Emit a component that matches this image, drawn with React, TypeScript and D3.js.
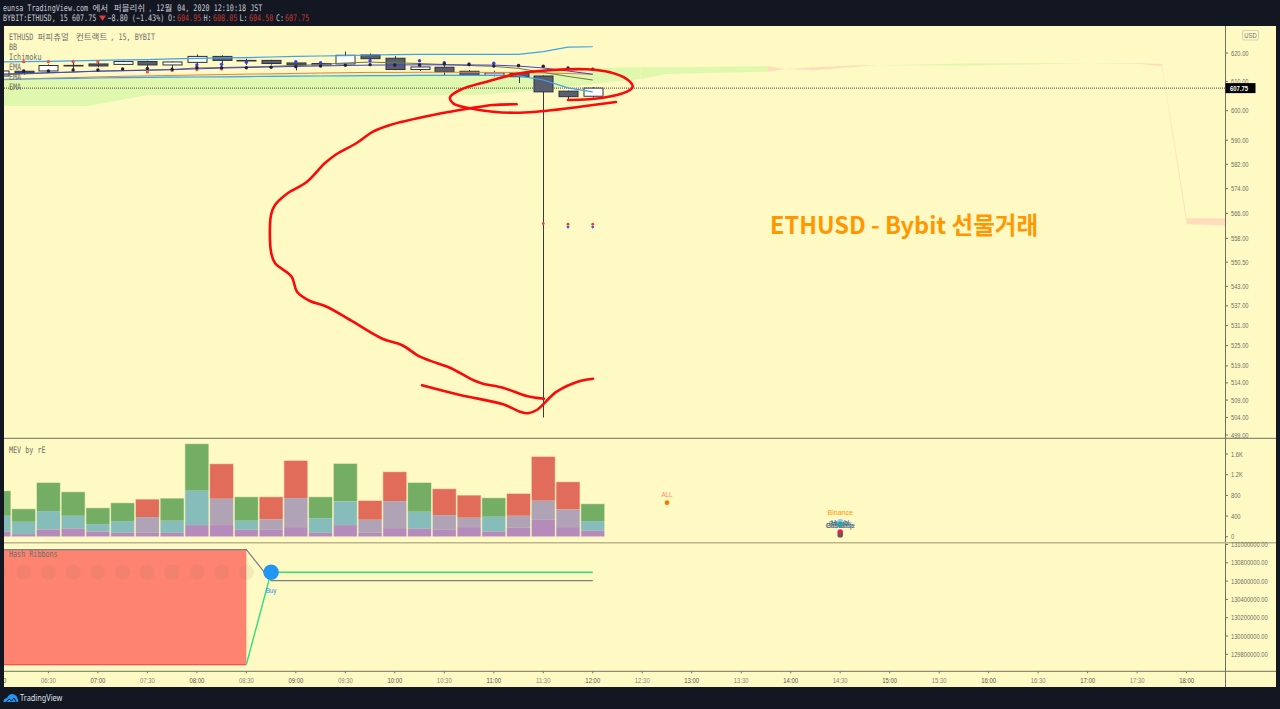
import React from "react";
import * as d3 from "d3";

const headerTitle = "eunsa TradingView.com 에서 퍼블리쉬, 12월 04, 2020 12:10:18 JST";
const legendLabels = ["ETHUSD 퍼피츄얼 컨트랙트, 15, BYBIT", "BB", "Ichimoku", "EMA", "EMA", "EMA"];
const bigTitle = "ETHUSD - Bybit 선물거래";

const priceTicks = [620, 610, 600, 590, 582, 574, 566, 558, 550.5, 543, 537, 531, 525, 519, 514, 509, 504, 499];
const volTicks = [0, 400, 800, 1200, 1600];
const volTickLabels = ["0", "400", "800", "1.2K", "1.6K"];
const hashTicks = [131000000, 130800000, 130600000, 130400000, 130200000, 130000000, 129800000];
const timeTicks = ["06:00","06:30","07:00","07:30","08:00","08:30","09:00","09:30","10:00","10:30","11:00","11:30","12:00","12:30","13:00","13:30","14:00","14:30","15:00","15:30","16:00","16:30","17:00","17:30","18:00"];

const barMinutes = d3.range(25).map((i) => 360 + i * 15);
const opens = [611.95,613.6,613.7,615.65,616.15,616,617,615.8,616.7,618.8,617.4,617.4,616.5,615.8,616.15,619.3,618.15,614.2,615,613.6,612.2,612.9,611.95,606.7,604.95];
const closes = [613.7,613.1,615.6,615.45,615.45,617,615.8,616.85,618.8,617.4,617.2,616.3,615.8,616.3,619.2,618,614.2,615.1,613.45,612.2,613,611.7,606.45,604.8,607.75];
const highs = [614,614.1,616,616.5,616.6,617.3,617.3,617,619.5,619.2,618,617.6,616.7,616.6,620.5,619.8,618.9,615.6,615.4,614,613.8,613.3,612.2,606.9,608.05];
const lows = [611.5,612.4,613.3,614.2,615,615.8,614.2,614.5,616.2,616.3,615.8,615.9,613.9,615.3,615.6,617.2,614,613.7,612.3,612,611.8,609.5,504,604,604.5];

const bbUpper = [616.85,616.95,617.05,617.2,617.4,617.55,617.7,617.9,618.1,618.25,618.4,618.6,618.8,618.95,619.1,619.3,619.4,619.5,619.5,619.5,619.5,619.55,620.5,622.1,622.2];
const bbLower = [610.8,610.9,611,611.1,611.25,611.35,611.45,611.55,611.6,611.65,611.75,611.8,611.9,611.95,612,612.1,612.1,612.15,612.15,612.15,612.15,612,610.55,607.85,606.45];
const basis = [612.6,612.85,613.1,613.35,613.6,613.75,613.95,614.15,614.45,614.7,614.9,615.1,615.3,615.45,615.6,615.75,615.8,615.85,615.85,615.8,615.75,615.4,614.75,613.7,612.55];
const oliveLine = [612.3,612.65,613,613.3,613.7,613.85,614.05,614.2,614.75,614.9,615.1,615.3,615.6,615.95,616.5,616.8,616.55,616.3,615.95,615.6,615.3,614.6,613.2,611.8,610.55];
const orangeLine = [610.55,610.9,611.2,611.4,611.65,611.85,612,612.15,612.3,612.45,612.6,612.7,612.85,613,613.1,613.2,613.2,613.25,613.25,613.25,613.2,613.2,613,612.8,612.55];

const darkMarks = [613.7,613.7,613.7,614.05,614.05,614.4,614.6,614.3,614.85,614.85,614.85,615,615.2,615.45,615.7,615.9,615.8,615.8,616.15,615.9,615.45,615.6,615.35,614.75,614.3];
const blueMarks = [null,null,null,null,null,null,null,null,615.8,616.05,616.75,null,616.95,616.6,null,617.3,null,617.3,616.6,616.15,616.4,null,null,null,null];
const redMarks = [null,616.95,616.95,616.95,616.95,null,613.35,613.9,614.2,614.4,null,null,null,null,null,null,null,null,null,null,null,615.45,null,null,null];
const lowRedMarks = [{ m: 690, p: 562.7 }, { m: 705, p: 562.5 }, { m: 720, p: 562.5 }];
const lowBlueMarks = [{ m: 705, p: 561.6 }, { m: 720, p: 561.6 }];

const cloudMinutes = [360,414,450,555,650,682,720,749,765,826,836,855,880,893,946,996,1021,1052,1065,1080,1107];
const spanA = [610.55,611.6,612,613,613.25,613.5,614.75,615,615,615.35,614.28,614.05,615.2,615.7,616.3,616.5,616.4,616.15,615.35,562.6,562];
const spanB = [601.6,601.6,605.4,605.4,605.4,606.75,609.2,610.9,612.65,613.45,614.32,615,615.7,615.7,615.55,616.15,616.4,616.4,616.15,564.4,564.4];

const volTop = [890,542,1051,871,561,658,729,748,1800,1413,774,774,1477,774,1419,703,1258,1051,929,806,755,839,1554,1064,639];
const volMid = [406,290,497,406,245,303,381,310,890,735,310,335,748,361,684,329,690,484,419,368,387,406,697,529,303];
const volLow = [97,52,142,155,103,77,77,77,226,226,135,135,187,77,226,77,168,155,135,187,97,174,329,187,116];
const volUp = [true,true,true,true,true,true,false,true,true,false,true,false,false,true,true,false,false,true,false,false,true,false,false,false,true];

const exchangeLabels = [
  { name: "Bitfinex", color: "#26a69a", v: 238 },
  { name: "Huobi", color: "#283593", v: 270 },
  { name: "Coinbase", color: "#1e88e5", v: 215 },
  { name: "Bitstamp", color: "#795548", v: 205 },
  { name: "Binance", color: "#ff9800", v: 455 },
];
const exchangeDots = [
  { color: "#90caf9", v: 295 },
  { color: "#26a69a", v: 240 },
  { color: "#e91e63", v: 90 },
  { color: "#795548", v: 35 },
];
const allMark = { name: "ALL", v: 660, minute: 765 };
const exchangeMinute = 870;

const hashFast = [129688000,129688000,129688000,129688000,129688000,129688000,129688000,129688000,129688000,129688000,129688000,130697000,130697000,130697000,130697000,130697000,130697000,130697000,130697000,130697000,130697000,130697000,130697000,130697000,130697000];
const hashSlow = [130943000,130943000,130943000,130943000,130943000,130943000,130943000,130943000,130943000,130943000,130943000,130605000,130605000,130605000,130605000,130605000,130605000,130605000,130605000,130605000,130605000,130605000,130605000,130605000,130605000];
const hashDotLevel = 130697000;

// Hand-drawn brush strokes: screen-space overlay, not chart data.
const brushStrokes: [number, number][][] = [
  [[516.7,104.3],[493,105],[470,108.3],[433,115],[390,125],[373,131.7],[356.7,143],[336.7,154],[325,163],[306.7,182],[288,193],[275,205],[271,215],[271,251.7],[275,263],[291.7,276.7],[297,291.7],[310,301],[326.7,306.7],[353,321.7],[383,339],[401.7,345],[420,356.7],[436.7,363],[450,367.7],[473,380],[483,383.7],[503,387.7],[526.7,396],[544,398.7]],
  [[422,385.3],[460,395],[503,404.3],[520,411.7],[528,413.3],[536.7,410],[556.7,391.7],[580,381],[593,378.7]],
  [[568,100],[603,97.7],[627,91.7],[632.7,86.7],[627,79.3],[610,72.3],[586.7,69.3],[553,70],[520,73.3],[486.7,81.7],[460,90],[450,97.3],[453,103.3],[470,108.3],[493,111.7],[520,112.7],[546.7,110.7],[580,106.7],[616,102]],
];

const W = 1280, H = 709;
const left = 4, axisX = 1225, right = 1276, top = 26, paneA = 438.3, paneB = 542.7, timeY = 671.3, bottom = 687;
const CHROME = "#131722", BG = "#fff9c4", LINE = "#6f7162", LABEL = "#6e7068";
const MONO = '"DejaVu Sans Mono",monospace';
const SANS = '"Liberation Sans","Noto Sans CJK KR",sans-serif';
const CJK = '"Noto Sans CJK KR",sans-serif';
const LATIN_ADV = 4.07, CJK_ADV = 8.6;

const x = d3.scaleLinear().domain([390, 1080]).range([48.4, 1186.6]);
const yP = d3.scaleLog().domain([620, 499]).range([53, 435]);
const yV = d3.scaleLinear().domain([0, 1600]).range([536.8, 454]);
const yH = d3.scaleLinear().domain([131000000, 129800000]).range([544.5, 654.3]);

const lineOf = (vals: number[]) =>
  d3.line<number>().x((_, i) => x(barMinutes[i])).y((v) => yP(v))(vals) as string;

function T({ x: tx, y, s, size = 9, sx = 0.75, fill = LABEL, anchor = "start", weight = 400, family = MONO }: any) {
  return (
    <text transform={`translate(${tx},${y}) scale(${sx},1)`} fontSize={size} fill={fill} textAnchor={anchor} fontWeight={weight} fontFamily={family}>
      {s}
    </text>
  );
}

// Mono label that mixes narrow latin runs with full-width Korean runs.
function Mixed({ x: tx, y, s, fill = LABEL }: any) {
  const runs: string[] = s.match(/[\uAC00-\uD7A3]+|[^\uAC00-\uD7A3]+/g) || [];
  let cur = tx;
  return (
    <g>
      {runs.map((r, i) => {
        const isCjk = /[\uAC00-\uD7A3]/.test(r);
        const at = cur;
        cur += r.length * (isCjk ? CJK_ADV : LATIN_ADV);
        return isCjk ? (
          <T key={i} x={at} y={y} s={r} fill={fill} size={8.5} sx={1} family={CJK} />
        ) : (
          <text key={i} transform={`translate(${at},${y}) scale(0.75,1)`} fontSize={9} fill={fill} fontFamily={MONO} xmlSpace="preserve" style={{ whiteSpace: "pre" }}>
            {r}
          </text>
        );
      })}
    </g>
  );
}

export default function App() {
  const candleW = 19;
  const brushLine = d3.line<[number, number]>().curve(d3.curveCatmullRom.alpha(0.5));
  const hashArea = d3
    .area<number>()
    .x((m) => x(m))
    .y0((_, i) => yH(hashFast[i]))
    .y1((_, i) => yH(hashSlow[i]));
  const ribbonMins = barMinutes.slice(0, hashFast.findIndex((v) => v === hashDotLevel));
  const buyIndex = ribbonMins.length;
  const fastPts = barMinutes.map((m, i) => [x(m), yH(hashFast[i])] as [number, number]);
  const slowPts = barMinutes.map((m, i) => [x(m), yH(hashSlow[i])] as [number, number]);
  const pl = d3.line<[number, number]>();
  return (
    <svg width={W} height={H} viewBox={`0 0 ${W} ${H}`} style={{ position: "fixed", left: 0, top: 0, display: "block" }}>
      <defs>
        <clipPath id="main"><rect x={left} y={top} width={axisX - left} height={paneA - top} /></clipPath>
        <clipPath id="vol"><rect x={left} y={paneA} width={axisX - left} height={paneB - paneA} /></clipPath>
        <clipPath id="hash"><rect x={left} y={paneB} width={axisX - left} height={timeY - paneB} /></clipPath>
        <clipPath id="time"><rect x={left} y={timeY} width={axisX - left} height={bottom - timeY} /></clipPath>
      </defs>
      <rect width={W} height={H} fill={CHROME} />
      <rect x={left} y={top} width={right - left} height={bottom - top} fill={BG} />

      <Mixed x={3} y={10.5} s={headerTitle} fill="#c8cad2" />
      <T x={3} y={20.5} s="BYBIT:ETHUSD, 15 607.75" fill="#c8cad2" />
      <path d="M99 15.5 L106 15.5 L102.5 21 Z" fill="#e53935" />
      <T x={107.5} y={20.5} s="−8.80 (−1.43%)" fill="#c8cad2" />
      {[["O:", 168, "604.95", 177], ["H:", 203.5, "608.05", 213], ["L:", 239.5, "604.50", 249], ["C:", 276, "607.75", 285]].map((r: any) => (
        <g key={r[0]}>
          <T x={r[1]} y={20.5} s={r[0]} fill="#c8cad2" />
          <T x={r[3]} y={20.5} s={r[2]} fill="#c0392f" />
        </g>
      ))}

      {/* main pane */}
      <g clipPath="url(#main)">
        {cloudMinutes.slice(0, -1).map((m, i) => {
          const d1 = spanA[i + 1] - spanB[i + 1];
          const d = d1 !== 0 ? d1 : spanA[i] - spanB[i];
          const p = [
            [x(m), yP(spanA[i])],
            [x(cloudMinutes[i + 1]), yP(spanA[i + 1])],
            [x(cloudMinutes[i + 1]), yP(spanB[i + 1])],
            [x(m), yP(spanB[i])],
          ] as [number, number][];
          return <path key={m} d={pl(p) + "Z"} fill={d > 0 ? "#e0f7ae" : "#ffdcbc"} />;
        })}
        <line x1={left} x2={axisX} y1={yP(607.75)} y2={yP(607.75)} stroke="#444" strokeWidth={1} strokeDasharray="1 1" />
        {barMinutes.map((m, i) => {
          const up = closes[i] >= opens[i];
          const t = yP(Math.max(opens[i], closes[i]));
          const b = yP(Math.min(opens[i], closes[i]));
          const cx = Math.round(x(m)) + 0.5;
          return (
            <g key={m}>
              <line x1={cx} x2={cx} y1={yP(highs[i])} y2={yP(lows[i])} stroke="#363a45" strokeWidth={1} />
              <rect x={cx - candleW / 2} y={t} width={candleW} height={Math.max(b - t, 0.5)} fill={up ? "#ffffff" : "#5a5f6f"} stroke="#2f323c" strokeWidth={1} />
            </g>
          );
        })}
        <path d={lineOf(orangeLine)} fill="none" stroke="#ea7f45" strokeWidth={1} />
        <path d={lineOf(oliveLine)} fill="none" stroke="#6f7a42" strokeWidth={1} />
        <path d={lineOf(basis)} fill="none" stroke="#4242d4" strokeWidth={1} />
        <path d={lineOf(bbUpper)} fill="none" stroke="#3fa2ec" strokeWidth={1.2} />
        <path d={lineOf(bbLower)} fill="none" stroke="#3fa2ec" strokeWidth={1.2} />
        {barMinutes.map((m, i) => (
          <g key={m}>
            {redMarks[i] != null && <circle cx={x(m)} cy={yP(redMarks[i] as number)} r={1.6} fill="#f0503c" />}
            {blueMarks[i] != null && <circle cx={x(m)} cy={yP(blueMarks[i] as number)} r={1.7} fill="#3a3ee6" />}
            <circle cx={x(m)} cy={yP(darkMarks[i])} r={1.7} fill="#1e2233" />
          </g>
        ))}
        {lowBlueMarks.map((d) => <circle key={d.m} cx={x(d.m)} cy={yP(d.p)} r={1.4} fill="#3a5ef0" />)}
        {lowRedMarks.map((d) => <circle key={d.m} cx={x(d.m)} cy={yP(d.p)} r={1.4} fill="#f0403c" />)}
      </g>

      {legendLabels.map((s, i) => (
        <Mixed key={i} x={9} y={39.5 + i * 10} s={s} />
      ))}
      <text x={770} y={234} fontSize={23.5} fontWeight={700} fill="#ff9800" fontFamily={CJK}>{bigTitle}</text>

      {/* volume pane */}
      <g clipPath="url(#vol)">
        {barMinutes.map((m, i) => {
          const bx = x(m) - 12;
          const rects: [number, number, string][] = [
            [volMid[i], volTop[i], volUp[i] ? "#74ae64" : "#e26c5a"],
            [volLow[i], volMid[i], volUp[i] ? "#86bcba" : "#b0a3b6"],
            [0, volLow[i], "#b48bbb"],
          ];
          return (
            <g key={m}>
              {rects.map(([a, b, c]) => (
                <rect key={c} x={bx} y={yV(b)} width={24} height={yV(a) - yV(b)} fill={c} />
              ))}
              <rect x={bx} y={yV(volTop[i])} width={24} height={yV(0) - yV(volTop[i])} fill="none" stroke="#fff9c4" strokeOpacity={0.6} strokeWidth={1} />
            </g>
          );
        })}
        <T x={x(allMark.minute)} y={yV(allMark.v) - 6} s={allMark.name} size={7} sx={0.9} anchor="middle" fill="#ff8a65" family={SANS} />
        <circle cx={x(allMark.minute)} cy={yV(allMark.v)} r={2.4} fill="#ef7c00" />
        {exchangeLabels.map((d) => (
          <T key={d.name} x={x(exchangeMinute)} y={yV(d.v) + 2} s={d.name} size={7} sx={1} anchor="middle" fill={d.color} family={SANS} />
        ))}
        {exchangeDots.map((d) => (
          <circle key={d.color} cx={x(exchangeMinute)} cy={yV(d.v)} r={2.8} fill={d.color} />
        ))}
      </g>
      <T x={9} y={452.5} s="MEV by rE" />

      {/* hash ribbons */}
      <g clipPath="url(#hash)">
        <path d={hashArea(barMinutes.slice(0, buyIndex))!} fill="#ff8371" />
        {ribbonMins.map((m) => (
          <circle key={m} cx={x(m)} cy={yH(hashDotLevel)} r={7.6} fill="#8d7f5c" fillOpacity={0.11} />
        ))}
        <path d={pl(slowPts)!} fill="none" stroke="#7b7f86" strokeWidth={1.2} />
        <path d={pl(fastPts.slice(0, buyIndex))!} fill="none" stroke="#ff4d4d" strokeWidth={1.2} />
        <path d={pl(fastPts.slice(buyIndex - 1))!} fill="none" stroke="#2fe07f" strokeWidth={1.4} />
        <circle cx={x(barMinutes[buyIndex])} cy={yH(hashDotLevel)} r={7.8} fill="#2196f3" />
        <T x={x(barMinutes[buyIndex])} y={593} s="Buy" size={7} sx={0.9} anchor="middle" fill="#2196f3" family={SANS} />
      </g>
      <T x={9} y={556.5} s="Hash Ribbons" />

      {/* brush */}
      {brushStrokes.map((s, i) => (
        <path key={i} d={brushLine(s)!} fill="none" stroke="#fb0a0a" strokeWidth={2.6} strokeLinecap="round" strokeLinejoin="round" />
      ))}

      {/* axes */}
      <g stroke={LINE} strokeWidth={1}>
        <line x1={axisX + 0.5} x2={axisX + 0.5} y1={top} y2={bottom} />
        <line x1={left} x2={right} y1={paneA} y2={paneA} />
        <line x1={left} x2={right} y1={paneB} y2={paneB} stroke="#b9b690" strokeWidth={1.5} />
        <line x1={left} x2={right} y1={timeY} y2={timeY} />
      </g>
      {priceTicks.map((p) => (
        <g key={p}>
          <line x1={axisX} x2={axisX + 3} y1={yP(p)} y2={yP(p)} stroke={LINE} />
          <T x={1231} y={yP(p) + 2.5} s={p.toFixed(2)} size={7} sx={0.82} family={SANS} />
        </g>
      ))}
      {volTicks.map((v, i) => (
        <g key={v}>
          <line x1={axisX} x2={axisX + 3} y1={yV(v)} y2={yV(v)} stroke={LINE} />
          <T x={1231} y={yV(v) + 2.5} s={volTickLabels[i]} size={7} sx={0.82} family={SANS} />
        </g>
      ))}
      {hashTicks.map((v) => (
        <g key={v}>
          <line x1={axisX} x2={axisX + 3} y1={yH(v)} y2={yH(v)} stroke={LINE} />
          <T x={1231} y={yH(v) + 2.5} s={v.toFixed(2)} size={7} sx={0.82} family={SANS} />
        </g>
      ))}
      <g clipPath="url(#time)">
        {timeTicks.map((s, i) => {
          const tx = x(360 + i * 30);
          const hour = s.endsWith(":00");
          return (
            <g key={s}>
              <line x1={tx} x2={tx} y1={timeY} y2={timeY + 2} stroke={LINE} />
              <T x={tx} y={682.5} s={s} size={7} sx={0.85} anchor="middle" fill={hour ? "#55574f" : "#85877a"} family={SANS} />
            </g>
          );
        })}
      </g>
      <rect x={axisX + 0.5} y={yP(607.75) - 5} width={30} height={10} fill="#000" />
      <T x={1230} y={yP(607.75) + 2.5} s="607.75" size={7} sx={0.85} fill="#fff" weight={700} family={SANS} />
      <rect x={1242.5} y={30.5} width={16} height={9.5} rx={1.5} fill={BG} stroke="#d3d1b4" />
      <T x={1250.5} y={37.5} s="USD" size={6.5} sx={0.9} anchor="middle" family={SANS} />

      {/* logo */}
      <path d="M3.5 702 Q3 698.5 7 698 Q9 693.5 13 694 Q17 695 17.5 698.5 Q19 700 18 702 Z" fill="#2196f3" />
      <path d="M6 702.5 L9 699 L11.5 701 L14 698 L16.5 702.5" fill="none" stroke={CHROME} strokeWidth={1} />
      <T x={20} y={701} s="TradingView" size={9} sx={0.82} fill="#dfe1e8" family={'"Noto Sans",sans-serif'} />
    </svg>
  );
}
